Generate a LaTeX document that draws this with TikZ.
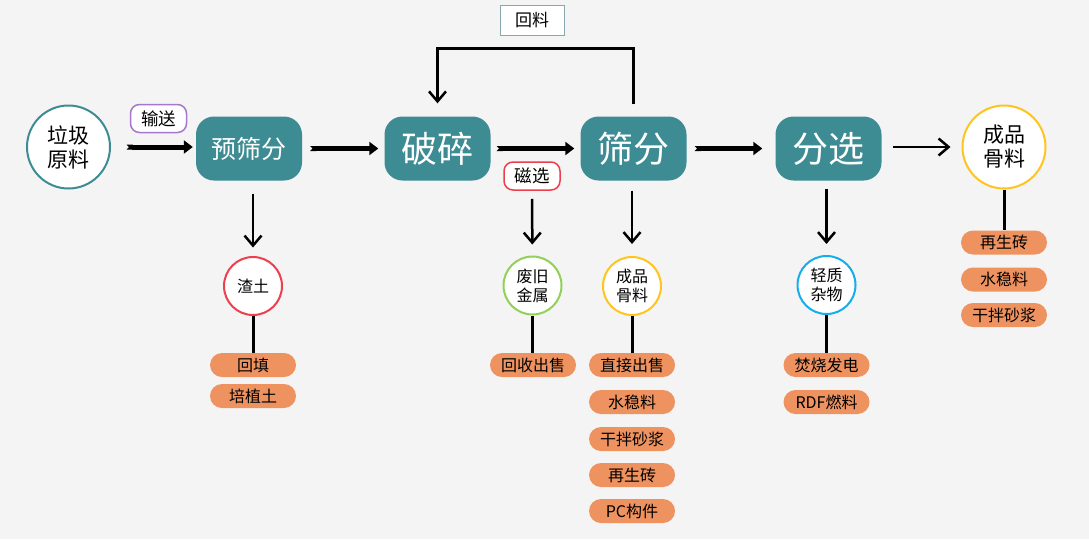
\documentclass[tikz,border=0pt]{standalone}
\usepackage{fontspec}
\setmainfont{Noto Sans CJK SC}
\usetikzlibrary{arrows.meta}
\definecolor{cBack}  {RGB}{244,244,244}
\definecolor{cStage} {RGB}{62,140,147}
\definecolor{cUse}   {RGB}{238,146,96}
\definecolor{cRed}   {RGB}{236,64,78}
\definecolor{cGreen} {RGB}{146,208,90}
\definecolor{cYellow}{RGB}{255,196,30}
\definecolor{cBlue}  {RGB}{20,174,236}
\definecolor{cPurple}{RGB}{165,120,205}
\definecolor{cFrame} {RGB}{135,168,174}

\begin{document}
\begin{tikzpicture}[
  x=1pt,y=-1pt,
  % process steps: teal rounded boxes with white text
  stage/.style={fill=cStage,rounded corners=18pt,minimum width=106pt,minimum height=64pt,
                inner sep=0pt,text=white},
  big/.style={circle,draw,line width=2pt,fill=white,minimum size=83pt,inner sep=0pt,
              align=center,font=\fontsize{21}{24}\selectfont},
  prod/.style={circle,draw,line width=2pt,fill=white,minimum size=58pt,inner sep=0pt,
               align=center,font=\fontsize{16}{19}\selectfont},
  use/.style={fill=cUse,rounded corners=12pt,minimum width=86pt,minimum height=24pt,
              inner sep=0pt,font=\fontsize{16}{18}\selectfont},
  tag/.style={draw,line width=1.5pt,rounded corners=9pt,fill=white,minimum width=56pt,
              minimum height=28pt,inner sep=0pt,font=\fontsize{17.5}{20}\selectfont},
  fat/.style={{Triangle Cap[reversed]}-{Triangle[length=9pt,width=13pt]},line width=5pt,
              shorten <=7pt,shorten >=5pt},
  arr/.style={-{Straight Barb[length=10pt,width=17pt]},line width=2.5pt},
  stem/.style={line width=3pt},
]

\useasboundingbox[fill=cBack] (0,0) rectangle (1089,539);

% ------------------------------------------------------------------ main row
\node[big,draw=cStage]  (raw) at (68.5,147) {垃圾\\原料};
\node[stage,font=\fontsize{25}{28}\selectfont] (yuf) at (249,148.5) {预筛分};
\node[stage,font=\fontsize{36}{40}\selectfont] (ps)  at (437.5,148.5) {破碎};
\node[stage,font=\fontsize{36}{40}\selectfont] (sf)  at (633.5,148.5) {筛分};
\node[stage,font=\fontsize{36}{40}\selectfont] (fx)  at (828.5,148.5) {分选};
\node[big,draw=cYellow] (gl)  at (1004,147) {成品\\骨料};

\node[tag,draw=cPurple] (ss) at (158.5,118.5) {输送};
\node[tag,draw=cRed]    (cx) at (532,176)     {磁选};
\node[draw=cFrame,line width=1pt,fill=white,minimum width=64pt,minimum height=30pt,
      inner sep=0pt,font=\fontsize{17}{20}\selectfont] (hl) at (532,20) {回料};

\draw[fat,shorten <=15.5pt,shorten >=3pt] (raw.east) -- (raw.east -| yuf.west);
\draw[fat,shorten <=8pt,shorten >=6pt]   (yuf) -- (ps);
\draw[fat,shorten <=6pt,shorten >=6pt]   (ps)  -- (sf);
\draw[fat,shorten <=8pt,shorten >=13pt]  (sf)  -- (fx);
\draw[arr,shorten <=11pt,shorten >=11pt] (fx.east |- gl) -- (gl.west);

% returned material goes back to the crusher
\draw[arr,shorten <=12pt,shorten >=13pt] (sf.north) -- ++(0,-68) -| (ps.north);

% ------------------------------------------------------------- side streams
\node[prod,draw=cRed]    (zt)  at (253,286)   {渣土};
\node[prod,draw=cGreen]  (jsh) at (532.5,285.5) {废旧\\金属};
\node[prod,draw=cYellow] (cp)  at (632,286)   {成品\\骨料};
\node[prod,draw=cBlue]   (qz)  at (826.5,285) {轻质\\杂物};

\draw[arr,shorten <=13pt,shorten >=8.5pt] (yuf.south -| zt) -- (zt);
\draw[arr,shorten <=8pt,shorten >=11pt]   (cx)  -- (jsh);
\draw[arr,shorten <=10pt,shorten >=12pt]  (sf.south -| cp) -- (cp);
\draw[arr,shorten <=8pt,shorten >=11pt]   (fx.south -| qz) -- (qz);

% ------------------------------------------------------------------- uses
\node[use] (ht)  at (253,365) {回填};
\node[use] (pzt) at (253,396) {培植土};

\node[use] (hs)  at (533,365) {回收出售};

\node[use] (zj)  at (632,365) {直接出售};
\node[use] (sw1) at (632,402) {水稳料};
\node[use] (gb1) at (632,439) {干拌砂浆};
\node[use] (zs1) at (632,475) {再生砖};
\node[use] (pc)  at (632,511) {PC构件};

\node[use] (fs)  at (826.5,365) {焚烧发电};
\node[use] (rdf) at (826.5,402) {RDF燃料};

\node[use] (zs2) at (1004,242.5) {再生砖};
\node[use] (sw2) at (1004,279.5) {水稳料};
\node[use] (gb2) at (1004,315)   {干拌砂浆};

\draw[stem] (zt)  -- (ht);
\draw[stem] (jsh) -- (jsh |- hs.north);
\draw[stem] (cp)  -- (zj);
\draw[stem] (qz)  -- (fs);
\draw[stem] (gl)  -- (zs2);

\end{tikzpicture}
\end{document}
